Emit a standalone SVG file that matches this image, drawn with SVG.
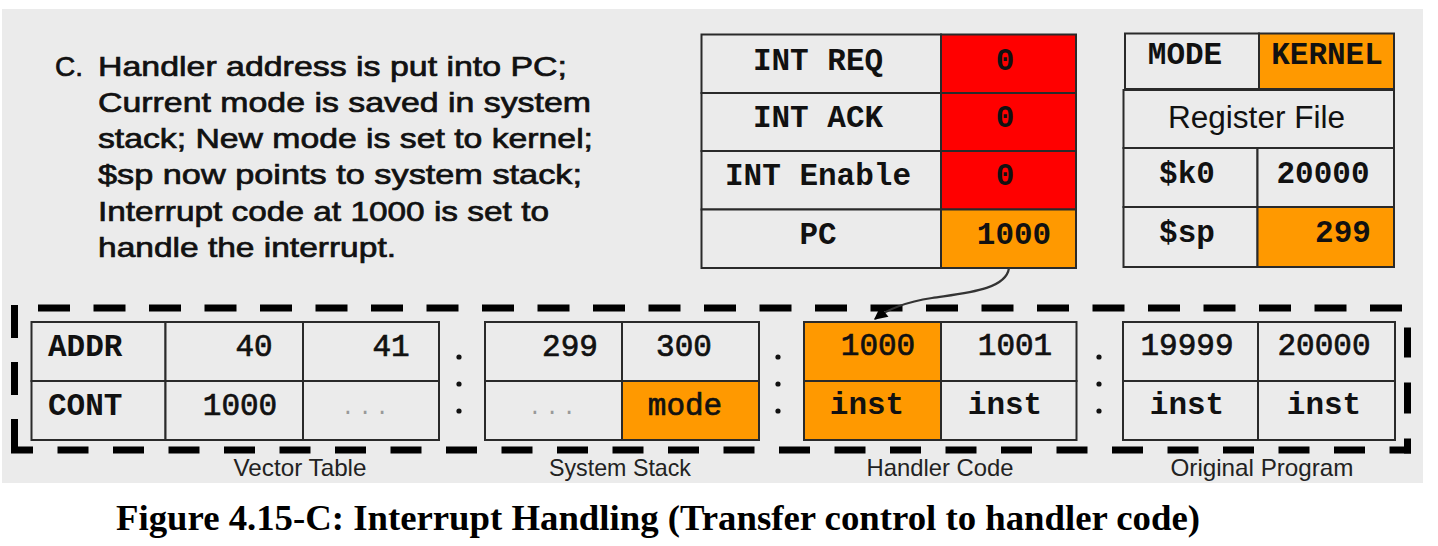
<svg xmlns="http://www.w3.org/2000/svg" width="1438" height="546" viewBox="0 0 1438 546">
<defs>
<style>
.cell{fill:#ebebeb;stroke:#2a2a2a;stroke-width:2}
.red{fill:#ff0000}
.org{fill:#ff9900}
.mono{font-family:"Liberation Mono","Courier New",monospace;font-size:31px;fill:#111;text-anchor:middle}
.b{font-weight:bold}
.start{text-anchor:start}
.num{stroke:#111;stroke-width:0.7}
.dots{font-family:"Liberation Mono",monospace;font-size:22px;fill:#999;text-anchor:middle;letter-spacing:4px}
.sans{font-family:"Liberation Sans",Arial,sans-serif;fill:#111}
.lbl{font-family:"Liberation Sans",Arial,sans-serif;font-size:24px;fill:#222;text-anchor:middle}
.frame{stroke:#000;stroke-width:7;fill:none}
.sep{fill:#111}
</style>
<marker id="arr" viewBox="0 0 10 10" refX="9" refY="5" markerWidth="7" markerHeight="6" orient="auto" markerUnits="strokeWidth">
<path d="M0,0 L10,5 L0,10 z" fill="#000"/>
</marker>
</defs>
<rect x="0" y="0" width="1438" height="546" fill="#ffffff"/>
<rect x="2" y="9" width="1421" height="474" fill="#ebebeb"/>

<g id="description">
<text class="sans" font-size="28" stroke="#111" stroke-width="0.7">
<tspan x="55" y="76">C.</tspan><tspan x="98" y="76" textLength="469" lengthAdjust="spacingAndGlyphs">Handler address is put into PC;</tspan>
<tspan x="98" y="112" textLength="493" lengthAdjust="spacingAndGlyphs">Current mode is saved in system</tspan>
<tspan x="98" y="148" textLength="495" lengthAdjust="spacingAndGlyphs">stack; New mode is set to kernel;</tspan>
<tspan x="98" y="184" textLength="484" lengthAdjust="spacingAndGlyphs">$sp now points to system stack;</tspan>
<tspan x="98" y="221" textLength="451" lengthAdjust="spacingAndGlyphs">Interrupt code at 1000 is set to</tspan>
<tspan x="98" y="257" textLength="298" lengthAdjust="spacingAndGlyphs">handle the interrupt.</tspan>
</text>
</g>

<g id="int-registers">
<rect class="cell" x="701.5" y="34.5" width="239.5" height="58.5"/>
<rect class="cell red" x="941" y="34.5" width="135" height="58.5"/>
<rect class="cell" x="701.5" y="93" width="239.5" height="58"/>
<rect class="cell red" x="941" y="93" width="135" height="58"/>
<rect class="cell" x="701.5" y="151" width="239.5" height="58.5"/>
<rect class="cell red" x="941" y="151" width="135" height="58.5"/>
<rect class="cell" x="701.5" y="209.5" width="239.5" height="58.5"/>
<rect class="cell org" x="941" y="209.5" width="135" height="58.5"/>
<text class="mono b" x="818" y="70">INT REQ</text>
<text class="mono b" x="818" y="127">INT ACK</text>
<text class="mono b" x="818" y="185">INT Enable</text>
<text class="mono b" x="818" y="244">PC</text>
<text class="mono b" x="1005" y="70">0</text>
<text class="mono b" x="1005" y="127">0</text>
<text class="mono b" x="1005" y="185">0</text>
<text class="mono b" x="1014" y="244">1000</text>
</g>

<g id="mode">
<rect class="cell" x="1125" y="33.5" width="134" height="55.5"/>
<rect class="cell org" x="1259" y="33.5" width="135" height="55.5"/>
<text class="mono b" x="1185" y="64" font-size="30">MODE</text>
<text class="mono b" x="1327" y="64">KERNEL</text>
</g>

<g id="register-file">
<rect class="cell" x="1123.5" y="90" width="270.5" height="58"/>
<rect class="cell" x="1123.5" y="148" width="134" height="59"/>
<rect class="cell" x="1257.5" y="148" width="136.5" height="59"/>
<rect class="cell" x="1123.5" y="207" width="134" height="60"/>
<rect class="cell org" x="1257.5" y="207" width="136.5" height="60"/>
<text class="sans" x="1168" y="128" font-size="31" textLength="177" lengthAdjust="spacingAndGlyphs">Register File</text>
<text class="mono b" x="1187" y="183">$k0</text>
<text class="mono b" x="1323" y="183">20000</text>
<text class="mono b" x="1187" y="242">$sp</text>
<text class="mono b" x="1343" y="242">299</text>
</g>

<g id="memory-frame">
<line class="frame" x1="38" y1="308" x2="1402" y2="308" stroke-dasharray="32 23.5"/>
<line class="frame" x1="14.5" y1="305" x2="14.5" y2="453.5" stroke-dasharray="33 24"/>
<line class="frame" x1="11" y1="450" x2="1411" y2="450" stroke-dasharray="31 24.5" stroke-dashoffset="9"/>
<line class="frame" x1="1407.5" y1="453.5" x2="1407.5" y2="305" stroke-dasharray="15 25 31 25 30 100"/>
</g>

<g id="vector-table">
<rect class="cell" x="31.5" y="322" width="134" height="59"/>
<rect class="cell" x="165.5" y="322" width="137.5" height="59"/>
<rect class="cell" x="303" y="322" width="136" height="59"/>
<rect class="cell" x="31.5" y="381" width="134" height="59"/>
<rect class="cell" x="165.5" y="381" width="137.5" height="59"/>
<rect class="cell" x="303" y="381" width="136" height="59"/>
<text class="mono b start" x="48" y="356">ADDR</text>
<text class="mono b start" x="48" y="415">CONT</text>
<text class="mono num" x="254" y="356">40</text>
<text class="mono num" x="391" y="356">41</text>
<text class="mono num" x="240" y="415">1000</text>
<text class="dots" x="367" y="414">...</text>
<text class="lbl" x="300" y="476" textLength="133" lengthAdjust="spacingAndGlyphs">Vector Table</text>
</g>

<g id="system-stack">
<rect class="cell" x="485" y="322" width="137" height="59"/>
<rect class="cell" x="622" y="322" width="137" height="59"/>
<rect class="cell" x="485" y="381" width="137" height="59"/>
<rect class="cell org" x="622" y="381" width="137" height="59"/>
<text class="mono num" x="570" y="356">299</text>
<text class="mono num" x="684" y="356">300</text>
<text class="dots" x="554" y="414">...</text>
<text class="mono num" x="685" y="415">mode</text>
<text class="lbl" x="620" y="476" textLength="142" lengthAdjust="spacingAndGlyphs">System Stack</text>
</g>

<g id="handler-code">
<rect class="cell org" x="804" y="322" width="137" height="59"/>
<rect class="cell" x="941" y="322" width="135.5" height="59"/>
<rect class="cell org" x="804" y="381" width="137" height="59"/>
<rect class="cell" x="941" y="381" width="135.5" height="59"/>
<text class="mono num" x="878" y="355">1000</text>
<text class="mono num" x="1015" y="355">1001</text>
<text class="mono b" x="867" y="414">inst</text>
<text class="mono b" x="1005" y="414">inst</text>
<text class="lbl" x="940" y="476" textLength="147" lengthAdjust="spacingAndGlyphs">Handler Code</text>
</g>

<g id="original-program">
<rect class="cell" x="1123" y="322" width="135" height="59"/>
<rect class="cell" x="1258" y="322" width="137" height="59"/>
<rect class="cell" x="1123" y="381" width="135" height="59"/>
<rect class="cell" x="1258" y="381" width="137" height="59"/>
<text class="mono num" x="1187" y="355">19999</text>
<text class="mono num" x="1324" y="355">20000</text>
<text class="mono b" x="1187" y="414">inst</text>
<text class="mono b" x="1324" y="414">inst</text>
<text class="lbl" x="1262" y="476" textLength="183" lengthAdjust="spacingAndGlyphs">Original Program</text>
</g>

<g id="separators">
<circle class="sep" cx="459" cy="357" r="2.6"/><circle class="sep" cx="459" cy="384" r="2.6"/><circle class="sep" cx="459" cy="411" r="2.6"/>
<circle class="sep" cx="778" cy="357" r="2.6"/><circle class="sep" cx="778" cy="384" r="2.6"/><circle class="sep" cx="778" cy="411" r="2.6"/>
<circle class="sep" cx="1099" cy="357" r="2.6"/><circle class="sep" cx="1099" cy="384" r="2.6"/><circle class="sep" cx="1099" cy="411" r="2.6"/>
</g>

<g id="connectors">
<path d="M1009,268 C1006,290 965,293 932,298 C906,302 889,308 875,319" fill="none" stroke="#333" stroke-width="2.2" marker-end="url(#arr)"/>
</g>

<g id="caption">
<text x="116" y="530" font-family="'Liberation Serif','Times New Roman',serif" font-weight="bold" font-size="36" fill="#000" textLength="1084" lengthAdjust="spacingAndGlyphs">Figure 4.15-C: Interrupt Handling (Transfer control to handler code)</text>
</g>
</svg>
